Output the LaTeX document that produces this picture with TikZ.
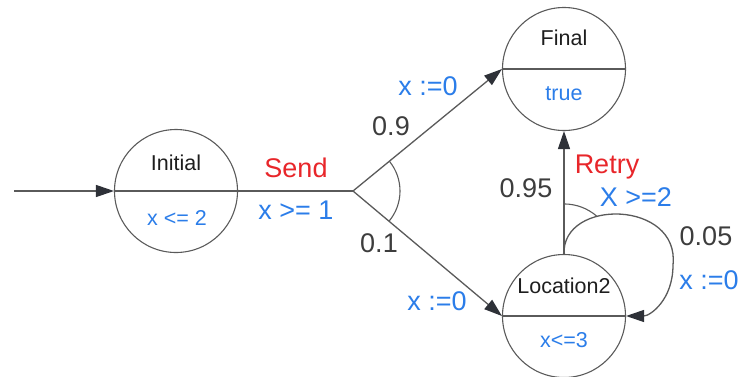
\documentclass[tikz,border=0pt]{standalone}
\usepackage{fontspec}
\setmainfont{Liberation Sans}
\usetikzlibrary{arrows.meta}

\definecolor{edgegray}{HTML}{5A5A5A}
\definecolor{tipgray}{HTML}{2E3138}
\definecolor{guardblue}{HTML}{2B7DE9}
\definecolor{actred}{HTML}{E8262A}
\definecolor{probgray}{HTML}{3D3D3D}
\definecolor{namegray}{HTML}{1E1E1E}

\begin{document}
\begin{tikzpicture}[x=1pt,y=1pt,
  state/.style={circle, draw=edgegray, line width=1.1pt, minimum size=123pt, inner sep=0pt},
  divider/.style={draw=edgegray, line width=1.2pt},
  trans/.style={draw=edgegray, line width=1.3pt},
  arr/.style={trans, -{Triangle[length=18pt,width=12pt,color=tipgray,fill=tipgray]}},
  probarc/.style={draw=edgegray, line width=1.1pt},
  inlbl/.style={anchor=base, inner sep=0pt, font=\fontsize{21.5}{24}\selectfont},
  namelbl/.style={inlbl, text=namegray},
  invlbl/.style={inlbl, text=guardblue},
  edgelbl/.style={anchor=base, inner sep=0pt, font=\fontsize{27}{30}\selectfont},
  guard/.style={edgelbl, text=guardblue},
  act/.style={edgelbl, text=actred},
  prob/.style={edgelbl, text=probgray},
]
\useasboundingbox (0,0) rectangle (742,-376);

% locations
\node[state] (init) at (176,-191) {};
\node[state] (fin)  at (564,-69)  {};
\node[state] (loc)  at (564,-316) {};
\draw[divider] (init.west) -- (init.east);
\draw[divider] (fin.west)  -- (fin.east);
\draw[divider] (loc.west)  -- (loc.east);

% location names and invariants
\node[namelbl] (initname) at (176,-170) {Initial};
\node[invlbl]  (initinv)  at (177,-225) {x <= 2};
\node[namelbl] (finname)  at (564,-45)  {Final};
\node[invlbl]  (fininv)   at (564,-100) {true};
\node[namelbl] (locname)  at (564,-293) {Location2};
\node[invlbl]  (locinv)   at (564,-347) {x<=3};

% initial arrow
\coordinate (start) at (14,-191);
\draw[arr] (start) -- (init.west);

% probabilistic Send edge
\coordinate (br) at (353,-191);
\draw[trans] (init.east) -- (br);
\draw[arr] (br) -- (fin.west);
\draw[arr] (br) -- (loc.west);
\draw[probarc] (br) ++(39.3:47) arc[start angle=39.3, end angle=-40, radius=47];

% probabilistic Retry edge
\draw[arr] (loc.north) -- (fin.south);
\draw[arr] (loc.north) .. controls (562,-198) and (680,-200) .. (673,-265)
                       .. controls (673,-300) and (650,-316) .. (loc.east);
\draw[probarc] (loc.north) ++(90:50) arc[start angle=90, end angle=49, radius=50];

% edge labels
\node[act]   (send)   at (296,-177) {Send};
\node[guard] (sendg)  at (296,-219) {x >= 1};
\node[prob]  (p09)    at (391,-135) {0.9};
\node[guard] (resfin) at (428,-95)  {x :=0};
\node[prob]  (p01)    at (379,-252) {0.1};
\node[guard] (resloc) at (437,-310) {x :=0};
\node[act]   (retry)  at (607,-173) {Retry};
\node[prob]  (p095)   at (526,-197) {0.95};
\node[guard] (retryg) at (636,-206) {X >=2};
\node[prob]  (p005)   at (706,-245) {0.05};
\node[guard] (resl2)  at (709,-289) {x :=0};
\end{tikzpicture}
\end{document}
